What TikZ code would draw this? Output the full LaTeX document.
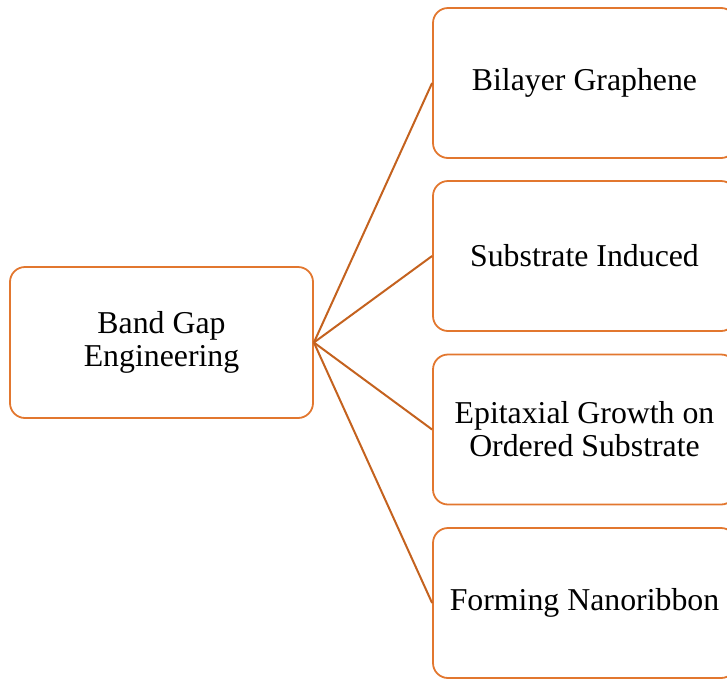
\documentclass[tikz,border=0pt]{standalone}
\usepackage{fontspec}
\setmainfont{Liberation Serif}
\usetikzlibrary{positioning}
\definecolor{gapborder}{HTML}{E2772F}
\definecolor{gaplink}{HTML}{C4621F}

\begin{document}
\begin{tikzpicture}[
        x=1pt, y=-1pt,
        gapbox/.style={
            draw=gapborder,
            line width=1.8pt,
            rounded corners=15pt,
            align=center,
            inner sep=0pt,
            minimum width=303pt,
            font=\fontsize{31.8}{33}\selectfont
        },
        rootbox/.style={gapbox, minimum height=151pt},
        leafbox/.style={gapbox, minimum height=150pt},
        gaplinkline/.style={draw=gaplink, line width=2pt}
    ]
        \useasboundingbox (0,0) rectangle (727,678);

        \node[rootbox] (bandgap) at (161.5,342.5) {Band Gap\\Engineering};

        % right column, cut by the page edge
        \node[leafbox] (bilayer) at (584.5,83) {Bilayer Graphene};
        \node[leafbox] (substrate) at (584.5,256) {Substrate Induced};
        \node[leafbox] (epitaxial) at (584.5,429.5) {Epitaxial Growth on\\Ordered Substrate};
        \node[leafbox] (nanoribbon) at (584.5,603) {Forming Nanoribbon};

        \draw[gaplinkline] (bandgap.east) -- (bilayer.west);
        \draw[gaplinkline] (bandgap.east) -- (substrate.west);
        \draw[gaplinkline] (bandgap.east) -- (epitaxial.west);
        \draw[gaplinkline] (bandgap.east) -- (nanoribbon.west);
    \end{tikzpicture}
\end{document}
